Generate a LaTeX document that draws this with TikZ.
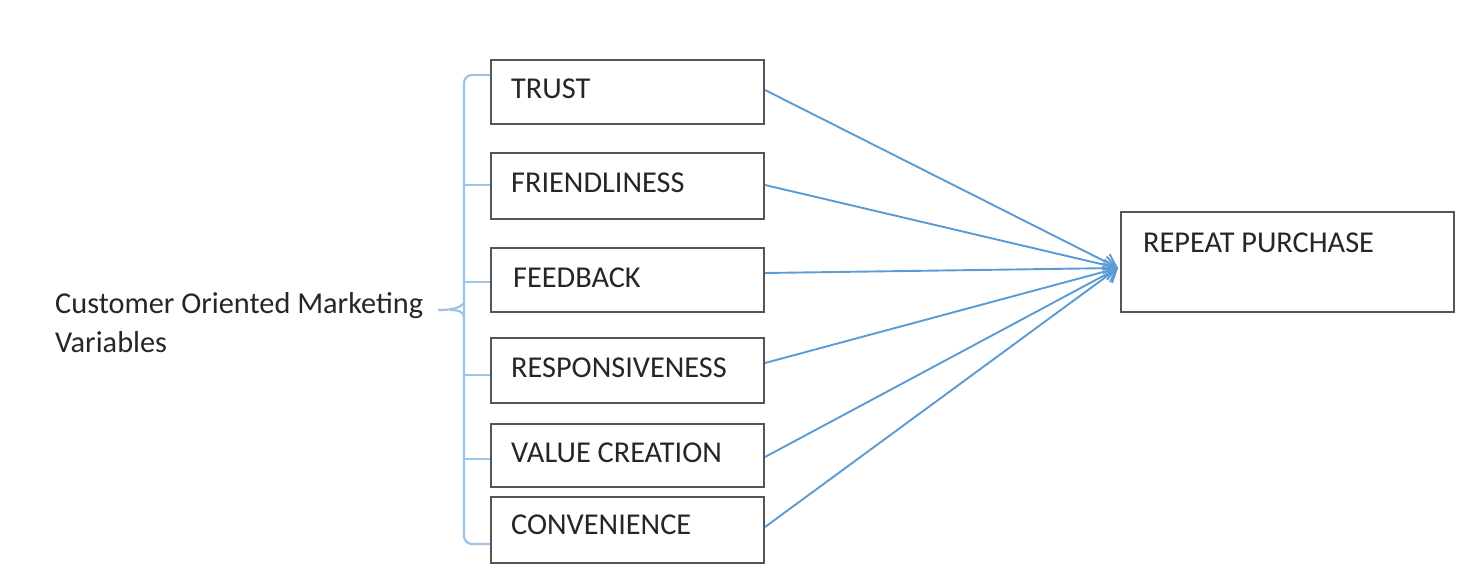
\documentclass[tikz,border=0pt]{standalone}
\usepackage{fontspec}
\setmainfont{Carlito}
\usetikzlibrary{arrows.meta,calc}
\definecolor{arrowblue}{HTML}{5B9BD5}
\definecolor{braceblue}{HTML}{9DC3E6}
\definecolor{boxgray}{HTML}{555555}
\definecolor{txt}{HTML}{262626}
\begin{document}
\begin{tikzpicture}[x=1pt,y=-1pt,
  box/.style={draw=boxgray, line width=2pt, fill=white, inner sep=0pt, minimum width=273pt, minimum height=64pt},
  lab/.style={anchor=base west, inner sep=0pt, text=txt, font=\fontsize{30.3pt}{39pt}\selectfont},
  conn/.style={draw=arrowblue, line width=1.9pt, -{Straight Barb[length=12pt,width=17pt,line width=1.9pt]}},
  bracel/.style={draw=braceblue, line width=2.2pt}]
\useasboundingbox (0,0) rectangle (1469,576);
% boxes
\node[box] (trust) at (627.5,92) {};
\node[box, minimum height=66pt] (friend) at (627.5,186) {};
\node[box] (feed) at (627.5,280) {};
\node[box, minimum height=65pt] (resp) at (627.5,370.5) {};
\node[box, minimum height=63pt] (value) at (627.5,455.5) {};
\node[box, minimum height=66pt] (conv) at (627.5,530) {};
\node[box, minimum width=333pt, minimum height=100pt] (repeat) at (1287.5,262) {};
% labels
\node[lab] (ltrust) at ($(trust.west)+(21,6)$) {TRUST};
\node[lab] (lfriend) at ($(friend.west)+(21,6)$) {FRIENDLINESS};
\node[lab] (lfeed) at ($(feed.west)+(23,7)$) {FEEDBACK};
\node[lab] (lresp) at ($(resp.west)+(21,6.5)$) {RESPONSIVENESS};
\node[lab] (lvalue) at ($(value.west)+(21,6.5)$) {VALUE CREATION};
\node[lab] (lconv) at ($(conv.west)+(21,4)$) {CONVENIENCE};
\node[lab] (lrepeat) at (1143,252) {REPEAT PURCHASE};
\node[lab] (group1) at (55,313) {Customer Oriented Marketing};
\node[lab] (group2) at (55,352) {Variables};
% brace
\coordinate (bmid) at (438,310);
\draw[bracel, rounded corners=8pt] ([yshift=17pt]trust.west) -- (464,75) -- (464,544) -- ([yshift=-14pt]conv.west);
\draw[bracel] ([yshift=1pt]friend.west) -- (464,185);
\draw[bracel] ([yshift=-2pt]feed.west) -- (464,282);
\draw[bracel] ([yshift=-4.5pt]resp.west) -- (464,375);
\draw[bracel] ([yshift=-3.5pt]value.west) -- (464,459);
\draw[bracel] (bmid) .. controls (452,310) and (460,308) .. (464,303);
\draw[bracel] (464,316) .. controls (462,311) and (458,310) .. (450,310);
% arrows
\coordinate (tip) at (1118,268);
\draw[conn] ([yshift=2pt]trust.east) -- (tip);
\draw[conn] ([yshift=1pt]friend.east) -- (tip);
\draw[conn] ([yshift=7pt]feed.east) -- (tip);
\draw[conn] ([yshift=7.5pt]resp.east) -- (tip);
\draw[conn] ([yshift=-1.5pt]value.east) -- (tip);
\draw[conn] ([yshift=3pt]conv.east) -- (tip);
\end{tikzpicture}
\end{document}
